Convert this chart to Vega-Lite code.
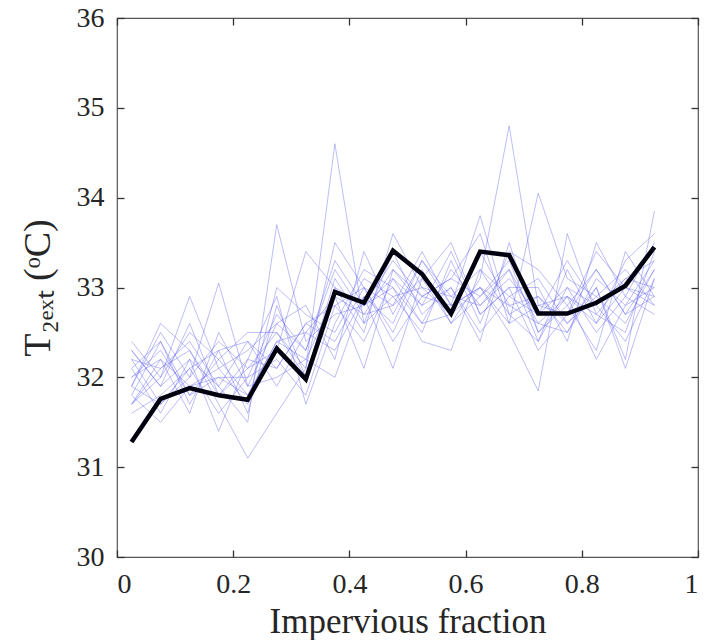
{
  "$schema": "https://vega.github.io/schema/vega-lite/v6.json",
  "autosize": {"type": "none"},
  "width": 581,
  "height": 539,
  "padding": {"left": 117, "top": 18, "right": 10, "bottom": 83},
  "background": "white",
  "config": {
    "view": {"stroke": "#555555", "strokeWidth": 1.2},
    "font": "Liberation Serif",
    "axis": {
      "domain": false,
      "grid": false,
      "tickSize": 7,
      "tickColor": "#333333",
      "tickWidth": 1.3,
      "labelFont": "Liberation Serif",
      "labelFontSize": 28,
      "labelColor": "#262626",
      "titleFont": "Liberation Serif",
      "titleFontSize": 35,
      "titleFontWeight": "normal",
      "titleColor": "#262626"
    }
  },
  "datasets": {
    "members": [
{"m":1,"x":0.025,"t":31.7},{"m":1,"x":0.075,"t":32.2},{"m":1,"x":0.125,"t":31.9},{"m":1,"x":0.175,"t":32.0},{"m":1,"x":0.225,"t":31.8},{"m":1,"x":0.275,"t":32.4},{"m":1,"x":0.325,"t":32.2},{"m":1,"x":0.375,"t":32.9},{"m":1,"x":0.425,"t":32.7},{"m":1,"x":0.475,"t":33.2},{"m":1,"x":0.525,"t":32.9},{"m":1,"x":0.575,"t":32.8},{"m":1,"x":0.625,"t":33.0},{"m":1,"x":0.675,"t":32.8},{"m":1,"x":0.725,"t":32.6},{"m":1,"x":0.775,"t":32.9},{"m":1,"x":0.825,"t":32.7},{"m":1,"x":0.875,"t":33.1},{"m":1,"x":0.925,"t":33.3},
{"m":2,"x":0.025,"t":32.3},{"m":2,"x":0.075,"t":31.9},{"m":2,"x":0.125,"t":32.6},{"m":2,"x":0.175,"t":31.8},{"m":2,"x":0.225,"t":32.2},{"m":2,"x":0.275,"t":32.1},{"m":2,"x":0.325,"t":32.6},{"m":2,"x":0.375,"t":32.4},{"m":2,"x":0.425,"t":33.0},{"m":2,"x":0.475,"t":32.8},{"m":2,"x":0.525,"t":33.1},{"m":2,"x":0.575,"t":32.6},{"m":2,"x":0.625,"t":32.9},{"m":2,"x":0.675,"t":33.3},{"m":2,"x":0.725,"t":32.5},{"m":2,"x":0.775,"t":32.8},{"m":2,"x":0.825,"t":33.2},{"m":2,"x":0.875,"t":32.7},{"m":2,"x":0.925,"t":32.9},
{"m":3,"x":0.025,"t":31.8},{"m":3,"x":0.075,"t":32.4},{"m":3,"x":0.125,"t":31.7},{"m":3,"x":0.175,"t":32.3},{"m":3,"x":0.225,"t":31.6},{"m":3,"x":0.275,"t":32.8},{"m":3,"x":0.325,"t":32.0},{"m":3,"x":0.375,"t":33.1},{"m":3,"x":0.425,"t":32.6},{"m":3,"x":0.475,"t":33.4},{"m":3,"x":0.525,"t":32.7},{"m":3,"x":0.575,"t":33.0},{"m":3,"x":0.625,"t":32.5},{"m":3,"x":0.675,"t":32.9},{"m":3,"x":0.725,"t":33.1},{"m":3,"x":0.775,"t":32.6},{"m":3,"x":0.825,"t":32.9},{"m":3,"x":0.875,"t":33.2},{"m":3,"x":0.925,"t":32.8},
{"m":4,"x":0.025,"t":32.1},{"m":4,"x":0.075,"t":31.6},{"m":4,"x":0.125,"t":32.2},{"m":4,"x":0.175,"t":31.9},{"m":4,"x":0.225,"t":32.4},{"m":4,"x":0.275,"t":31.9},{"m":4,"x":0.325,"t":32.5},{"m":4,"x":0.375,"t":32.3},{"m":4,"x":0.425,"t":32.9},{"m":4,"x":0.475,"t":32.6},{"m":4,"x":0.525,"t":33.3},{"m":4,"x":0.575,"t":32.9},{"m":4,"x":0.625,"t":33.2},{"m":4,"x":0.675,"t":32.7},{"m":4,"x":0.725,"t":32.4},{"m":4,"x":0.775,"t":33.0},{"m":4,"x":0.825,"t":32.5},{"m":4,"x":0.875,"t":32.9},{"m":4,"x":0.925,"t":33.5},
{"m":5,"x":0.025,"t":31.9},{"m":5,"x":0.075,"t":32.5},{"m":5,"x":0.125,"t":32.0},{"m":5,"x":0.175,"t":33.05},{"m":5,"x":0.225,"t":31.9},{"m":5,"x":0.275,"t":32.6},{"m":5,"x":0.325,"t":32.3},{"m":5,"x":0.375,"t":33.3},{"m":5,"x":0.425,"t":32.8},{"m":5,"x":0.475,"t":33.0},{"m":5,"x":0.525,"t":32.6},{"m":5,"x":0.575,"t":33.2},{"m":5,"x":0.625,"t":32.8},{"m":5,"x":0.675,"t":33.1},{"m":5,"x":0.725,"t":32.7},{"m":5,"x":0.775,"t":33.3},{"m":5,"x":0.825,"t":32.8},{"m":5,"x":0.875,"t":32.4},{"m":5,"x":0.925,"t":33.1},
{"m":6,"x":0.025,"t":32.4},{"m":6,"x":0.075,"t":32.0},{"m":6,"x":0.125,"t":32.9},{"m":6,"x":0.175,"t":32.1},{"m":6,"x":0.225,"t":31.7},{"m":6,"x":0.275,"t":33.0},{"m":6,"x":0.325,"t":32.7},{"m":6,"x":0.375,"t":32.5},{"m":6,"x":0.425,"t":33.1},{"m":6,"x":0.475,"t":32.9},{"m":6,"x":0.525,"t":33.0},{"m":6,"x":0.575,"t":32.7},{"m":6,"x":0.625,"t":33.4},{"m":6,"x":0.675,"t":32.8},{"m":6,"x":0.725,"t":32.9},{"m":6,"x":0.775,"t":32.5},{"m":6,"x":0.825,"t":33.1},{"m":6,"x":0.875,"t":32.8},{"m":6,"x":0.925,"t":33.0},
{"m":7,"x":0.025,"t":31.6},{"m":7,"x":0.075,"t":31.8},{"m":7,"x":0.125,"t":32.1},{"m":7,"x":0.175,"t":31.6},{"m":7,"x":0.225,"t":32.0},{"m":7,"x":0.275,"t":32.2},{"m":7,"x":0.325,"t":31.8},{"m":7,"x":0.375,"t":32.8},{"m":7,"x":0.425,"t":32.4},{"m":7,"x":0.475,"t":33.1},{"m":7,"x":0.525,"t":32.8},{"m":7,"x":0.575,"t":33.4},{"m":7,"x":0.625,"t":32.7},{"m":7,"x":0.675,"t":33.0},{"m":7,"x":0.725,"t":32.3},{"m":7,"x":0.775,"t":32.7},{"m":7,"x":0.825,"t":33.4},{"m":7,"x":0.875,"t":33.0},{"m":7,"x":0.925,"t":32.8},
{"m":8,"x":0.025,"t":32.0},{"m":8,"x":0.075,"t":32.3},{"m":8,"x":0.125,"t":31.8},{"m":8,"x":0.175,"t":32.2},{"m":8,"x":0.225,"t":32.5},{"m":8,"x":0.275,"t":32.5},{"m":8,"x":0.325,"t":32.1},{"m":8,"x":0.375,"t":33.5},{"m":8,"x":0.425,"t":33.0},{"m":8,"x":0.475,"t":32.5},{"m":8,"x":0.525,"t":33.2},{"m":8,"x":0.575,"t":32.6},{"m":8,"x":0.625,"t":33.1},{"m":8,"x":0.675,"t":34.8},{"m":8,"x":0.725,"t":32.8},{"m":8,"x":0.775,"t":32.9},{"m":8,"x":0.825,"t":32.6},{"m":8,"x":0.875,"t":33.3},{"m":8,"x":0.925,"t":33.6},
{"m":9,"x":0.025,"t":31.7},{"m":9,"x":0.075,"t":32.1},{"m":9,"x":0.125,"t":32.4},{"m":9,"x":0.175,"t":31.9},{"m":9,"x":0.225,"t":31.5},{"m":9,"x":0.275,"t":33.7},{"m":9,"x":0.325,"t":32.4},{"m":9,"x":0.375,"t":32.7},{"m":9,"x":0.425,"t":32.8},{"m":9,"x":0.475,"t":33.3},{"m":9,"x":0.525,"t":32.9},{"m":9,"x":0.575,"t":33.1},{"m":9,"x":0.625,"t":33.6},{"m":9,"x":0.675,"t":32.6},{"m":9,"x":0.725,"t":34.05},{"m":9,"x":0.775,"t":33.1},{"m":9,"x":0.825,"t":32.9},{"m":9,"x":0.875,"t":32.6},{"m":9,"x":0.925,"t":33.2},
{"m":10,"x":0.025,"t":32.2},{"m":10,"x":0.075,"t":31.7},{"m":10,"x":0.125,"t":32.0},{"m":10,"x":0.175,"t":32.4},{"m":10,"x":0.225,"t":32.1},{"m":10,"x":0.275,"t":32.3},{"m":10,"x":0.325,"t":33.4},{"m":10,"x":0.375,"t":33.0},{"m":10,"x":0.425,"t":32.5},{"m":10,"x":0.475,"t":33.6},{"m":10,"x":0.525,"t":33.0},{"m":10,"x":0.575,"t":32.9},{"m":10,"x":0.625,"t":32.8},{"m":10,"x":0.675,"t":33.2},{"m":10,"x":0.725,"t":32.6},{"m":10,"x":0.775,"t":32.5},{"m":10,"x":0.825,"t":33.0},{"m":10,"x":0.875,"t":32.2},{"m":10,"x":0.925,"t":33.85},
{"m":11,"x":0.025,"t":31.9},{"m":11,"x":0.075,"t":32.6},{"m":11,"x":0.125,"t":32.3},{"m":11,"x":0.175,"t":31.7},{"m":11,"x":0.225,"t":31.1},{"m":11,"x":0.275,"t":31.6},{"m":11,"x":0.325,"t":32.1},{"m":11,"x":0.375,"t":34.6},{"m":11,"x":0.425,"t":32.6},{"m":11,"x":0.475,"t":32.9},{"m":11,"x":0.525,"t":32.5},{"m":11,"x":0.575,"t":33.3},{"m":11,"x":0.625,"t":32.6},{"m":11,"x":0.675,"t":33.4},{"m":11,"x":0.725,"t":33.2},{"m":11,"x":0.775,"t":32.8},{"m":11,"x":0.825,"t":32.3},{"m":11,"x":0.875,"t":33.4},{"m":11,"x":0.925,"t":32.9},
{"m":12,"x":0.025,"t":31.8},{"m":12,"x":0.075,"t":31.5},{"m":12,"x":0.125,"t":31.9},{"m":12,"x":0.175,"t":32.1},{"m":12,"x":0.225,"t":32.3},{"m":12,"x":0.275,"t":32.6},{"m":12,"x":0.325,"t":32.8},{"m":12,"x":0.375,"t":32.2},{"m":12,"x":0.425,"t":33.4},{"m":12,"x":0.475,"t":32.7},{"m":12,"x":0.525,"t":33.3},{"m":12,"x":0.575,"t":32.8},{"m":12,"x":0.625,"t":33.0},{"m":12,"x":0.675,"t":32.5},{"m":12,"x":0.725,"t":31.85},{"m":12,"x":0.775,"t":33.6},{"m":12,"x":0.825,"t":32.7},{"m":12,"x":0.875,"t":32.5},{"m":12,"x":0.925,"t":33.4},
{"m":13,"x":0.025,"t":32.0},{"m":13,"x":0.075,"t":32.2},{"m":13,"x":0.125,"t":31.6},{"m":13,"x":0.175,"t":32.5},{"m":13,"x":0.225,"t":31.9},{"m":13,"x":0.275,"t":32.0},{"m":13,"x":0.325,"t":32.2},{"m":13,"x":0.375,"t":32.0},{"m":13,"x":0.425,"t":32.9},{"m":13,"x":0.475,"t":32.1},{"m":13,"x":0.525,"t":33.1},{"m":13,"x":0.575,"t":33.5},{"m":13,"x":0.625,"t":32.7},{"m":13,"x":0.675,"t":33.0},{"m":13,"x":0.725,"t":33.0},{"m":13,"x":0.775,"t":32.4},{"m":13,"x":0.825,"t":33.5},{"m":13,"x":0.875,"t":32.9},{"m":13,"x":0.925,"t":32.7},
{"m":14,"x":0.025,"t":32.3},{"m":14,"x":0.075,"t":31.9},{"m":14,"x":0.125,"t":32.2},{"m":14,"x":0.175,"t":31.4},{"m":14,"x":0.225,"t":32.2},{"m":14,"x":0.275,"t":32.9},{"m":14,"x":0.325,"t":31.7},{"m":14,"x":0.375,"t":32.6},{"m":14,"x":0.425,"t":33.2},{"m":14,"x":0.475,"t":33.0},{"m":14,"x":0.525,"t":32.4},{"m":14,"x":0.575,"t":32.3},{"m":14,"x":0.625,"t":33.2},{"m":14,"x":0.675,"t":32.9},{"m":14,"x":0.725,"t":32.7},{"m":14,"x":0.775,"t":33.0},{"m":14,"x":0.825,"t":32.8},{"m":14,"x":0.875,"t":33.1},{"m":14,"x":0.925,"t":33.0},
{"m":15,"x":0.025,"t":31.7},{"m":15,"x":0.075,"t":32.0},{"m":15,"x":0.125,"t":32.5},{"m":15,"x":0.175,"t":32.2},{"m":15,"x":0.225,"t":31.8},{"m":15,"x":0.275,"t":32.4},{"m":15,"x":0.325,"t":32.5},{"m":15,"x":0.375,"t":32.9},{"m":15,"x":0.425,"t":32.1},{"m":15,"x":0.475,"t":33.2},{"m":15,"x":0.525,"t":32.8},{"m":15,"x":0.575,"t":33.0},{"m":15,"x":0.625,"t":32.4},{"m":15,"x":0.675,"t":33.5},{"m":15,"x":0.725,"t":32.5},{"m":15,"x":0.775,"t":32.9},{"m":15,"x":0.825,"t":32.2},{"m":15,"x":0.875,"t":32.8},{"m":15,"x":0.925,"t":33.3},
{"m":16,"x":0.025,"t":32.1},{"m":16,"x":0.075,"t":32.4},{"m":16,"x":0.125,"t":31.8},{"m":16,"x":0.175,"t":32.0},{"m":16,"x":0.225,"t":32.0},{"m":16,"x":0.275,"t":32.7},{"m":16,"x":0.325,"t":32.3},{"m":16,"x":0.375,"t":33.2},{"m":16,"x":0.425,"t":32.7},{"m":16,"x":0.475,"t":32.8},{"m":16,"x":0.525,"t":33.4},{"m":16,"x":0.575,"t":32.8},{"m":16,"x":0.625,"t":33.8},{"m":16,"x":0.675,"t":32.7},{"m":16,"x":0.725,"t":32.9},{"m":16,"x":0.775,"t":32.6},{"m":16,"x":0.825,"t":33.0},{"m":16,"x":0.875,"t":32.1},{"m":16,"x":0.925,"t":33.1},
{"m":17,"x":0.025,"t":31.9},{"m":17,"x":0.075,"t":31.7},{"m":17,"x":0.125,"t":32.1},{"m":17,"x":0.175,"t":32.3},{"m":17,"x":0.225,"t":32.4},{"m":17,"x":0.275,"t":32.1},{"m":17,"x":0.325,"t":32.6},{"m":17,"x":0.375,"t":32.8},{"m":17,"x":0.425,"t":33.0},{"m":17,"x":0.475,"t":32.4},{"m":17,"x":0.525,"t":32.9},{"m":17,"x":0.575,"t":33.1},{"m":17,"x":0.625,"t":32.9},{"m":17,"x":0.675,"t":33.2},{"m":17,"x":0.725,"t":32.4},{"m":17,"x":0.775,"t":33.2},{"m":17,"x":0.825,"t":32.6},{"m":17,"x":0.875,"t":33.0},{"m":17,"x":0.925,"t":32.9},
{"m":18,"x":0.025,"t":32.2},{"m":18,"x":0.075,"t":32.1},{"m":18,"x":0.125,"t":32.3},{"m":18,"x":0.175,"t":31.8},{"m":18,"x":0.225,"t":32.1},{"m":18,"x":0.275,"t":32.5},{"m":18,"x":0.325,"t":32.0},{"m":18,"x":0.375,"t":33.0},{"m":18,"x":0.425,"t":32.8},{"m":18,"x":0.475,"t":33.1},{"m":18,"x":0.525,"t":32.6},{"m":18,"x":0.575,"t":32.7},{"m":18,"x":0.625,"t":33.0},{"m":18,"x":0.675,"t":32.6},{"m":18,"x":0.725,"t":32.8},{"m":18,"x":0.775,"t":32.7},{"m":18,"x":0.825,"t":33.2},{"m":18,"x":0.875,"t":32.7},{"m":18,"x":0.925,"t":33.2}
    ],
    "mean": [
      {"x":0.025,"t":31.28},{"x":0.075,"t":31.76},{"x":0.125,"t":31.88},{"x":0.175,"t":31.8},{"x":0.225,"t":31.75},{"x":0.275,"t":32.32},{"x":0.325,"t":31.98},{"x":0.375,"t":32.95},{"x":0.425,"t":32.83},{"x":0.475,"t":33.41},{"x":0.525,"t":33.15},{"x":0.575,"t":32.71},{"x":0.625,"t":33.4},{"x":0.675,"t":33.36},{"x":0.725,"t":32.71},{"x":0.775,"t":32.71},{"x":0.825,"t":32.83},{"x":0.875,"t":33.02},{"x":0.925,"t":33.45}
    ]
  },
  "layer": [
    {
      "data": {"name": "members"},
      "transform": [{"filter": "datum.m <= 9"}],
      "mark": {"type": "line", "color": "#5a5af0", "strokeWidth": 0.8, "opacity": 0.5},
      "encoding": {
        "x": {"field": "x", "type": "quantitative", "scale": {"domain": [0, 1], "nice": false},
              "axis": {"orient": "bottom", "values": [0, 0.2, 0.4, 0.6, 0.8, 1], "format": "~g", "ticks": false, "labelFont": "Liberation Serif", "labelFontSize": 28, "labelPadding": 13, "title": "Impervious fraction", "titleFont": "Liberation Serif", "titlePadding": 6}},
        "y": {"field": "t", "type": "quantitative", "scale": {"domain": [30, 36], "nice": false, "zero": false},
              "axis": {"orient": "left", "values": [30, 31, 32, 33, 34, 35, 36], "ticks": false, "labelFont": "Liberation Serif", "labelFontSize": 28, "labelPadding": 13, "title": "T₂ₑₓₜ (ᵒC)", "titleFont": "Liberation Serif", "titleFontSize": 38, "titlePadding": 19}},
        "detail": {"field": "m", "type": "nominal"}
      }
    },
    {
      "data": {"name": "members"},
      "transform": [{"filter": "datum.m > 9"}],
      "mark": {"type": "line", "color": "#5a5af0", "strokeWidth": 0.8, "opacity": 0.5},
      "encoding": {
        "x": {"field": "x", "type": "quantitative",
              "axis": {"orient": "top", "offset": -539, "values": [0, 0.2, 0.4, 0.6, 0.8, 1], "labels": false, "title": null}},
        "y": {"field": "t", "type": "quantitative",
              "axis": {"orient": "right", "offset": -581, "values": [30, 31, 32, 33, 34, 35, 36], "labels": false, "title": null}},
        "detail": {"field": "m", "type": "nominal"}
      }
    },
    {
      "data": {"name": "mean"},
      "mark": {"type": "line", "color": "#00000f", "strokeWidth": 4.5, "strokeJoin": "miter"},
      "encoding": {
        "x": {"field": "x", "type": "quantitative",
              "axis": {"orient": "bottom", "offset": -539, "values": [0, 0.2, 0.4, 0.6, 0.8, 1], "labels": false, "title": null}},
        "y": {"field": "t", "type": "quantitative",
              "axis": {"orient": "left", "offset": -581, "values": [30, 31, 32, 33, 34, 35, 36], "labels": false, "title": null}}
      }
    }
  ],
  "resolve": {"axis": {"x": "independent", "y": "independent"}}
}
